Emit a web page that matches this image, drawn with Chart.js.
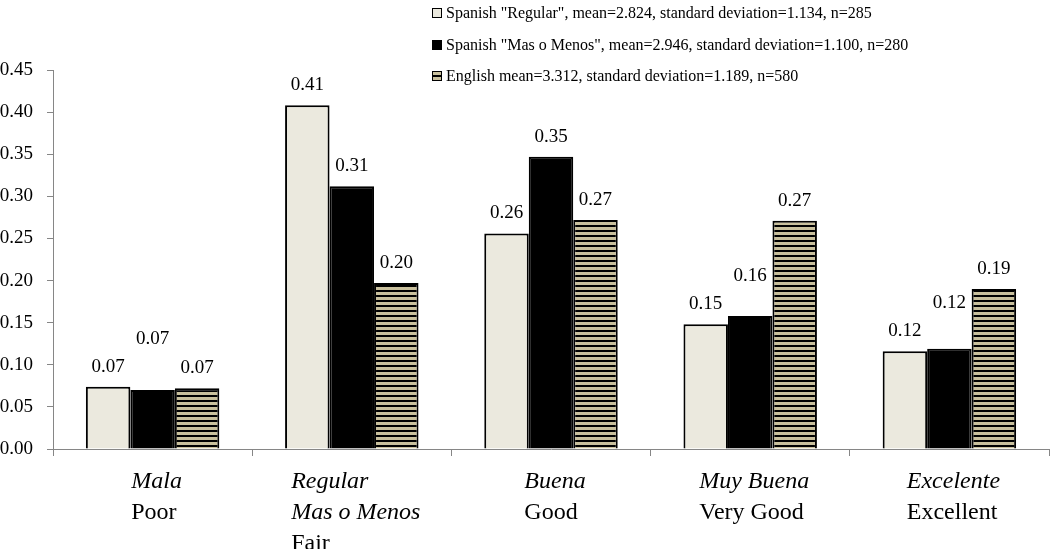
<!DOCTYPE html>
<html>
<head>
<meta charset="utf-8">
<script src="https://cdn.jsdelivr.net/npm/chart.js@4/dist/chart.umd.min.js"></script>
<style>
  html, body { margin: 0; padding: 0; background: #fff; }
  #wrap { width: 1050px; height: 549px; }
</style>
</head>
<body>
<div id="wrap"><canvas id="ratings-chart" width="1050" height="549"></canvas></div>
<script>
// categories: Spanish wording (italic) and English wording
const spanishLabels = [['Mala'], ['Regular', 'Mas o Menos'], ['Buena'], ['Muy Buena'], ['Excelente']];
const englishLabels = ['Poor', 'Fair', 'Good', 'Very Good', 'Excellent'];

// proportion answering each category
const spanishRegular = [0.074, 0.408, 0.256, 0.148, 0.116];
const spanishMasMenos = [0.070, 0.312, 0.347, 0.158, 0.119];
const englishRatings = [0.072, 0.197, 0.272, 0.271, 0.190];

const seriesNames = [
  'Spanish "Regular", mean=2.824, standard deviation=1.134, n=285',
  'Spanish "Mas o Menos", mean=2.946, standard deviation=1.100, n=280',
  'English mean=3.312, standard deviation=1.189, n=580'
];

const yTicks = [0, 0.05, 0.10, 0.15, 0.20, 0.25, 0.30, 0.35, 0.40, 0.45];

const SERIF = '"Liberation Serif", "Times New Roman", serif';

// horizontal stripes for the English bars
const makeStripes = () => {
  const c = document.createElement('canvas');
  c.width = 4; c.height = 5;
  const g = c.getContext('2d');
  g.fillStyle = '#c9c09d';
  g.fillRect(0, 0, 4, 5);
  g.fillStyle = '#000';
  g.fillRect(0, 0, 4, 2);
  return g.createPattern(c, 'repeat');
};
const stripes = makeStripes();
const lightFill = '#ebe9de';

const extrasPlugin = {
  id: 'extras',
  afterDatasetsDraw(chart) {
    const ctx = chart.ctx;
    ctx.save();
    ctx.font = '19px ' + SERIF;
    ctx.fillStyle = '#000';
    ctx.textAlign = 'center';
    ctx.textBaseline = 'middle';
    const n = chart.data.labels.length;
    for (let i = 0; i < n; i++) {
      let leftY = null;
      chart.data.datasets.forEach((ds, d) => {
        const bar = chart.getDatasetMeta(d).data[i];
        let y = bar.y - 20;
        // lift the middle label when it would sit level with its left neighbour
        if (d === 1 && leftY !== null && Math.abs(y - leftY) < 20) y = leftY - 28;
        if (d === 0) leftY = y;
        ctx.fillText(ds.data[i].toFixed(2), bar.x, y);
      });
    }
    ctx.restore();
  },
  afterDraw(chart) {
    const ctx = chart.ctx;
    const xs = chart.scales.x;
    ctx.save();
    ctx.fillStyle = '#000';
    ctx.textBaseline = 'middle';
    ctx.textAlign = 'left';
    // two-style category labels, lines left-aligned in a centred block
    spanishLabels.forEach((lines, i) => {
      const x = xs.getPixelForValue(i);
      ctx.font = 'italic 24px ' + SERIF;
      let w = Math.max(...lines.map(t => ctx.measureText(t).width));
      ctx.font = '24px ' + SERIF;
      w = Math.max(w, ctx.measureText(englishLabels[i]).width);
      const left = x - w / 2 + 4;
      let y = 482;
      ctx.font = 'italic 24px ' + SERIF;
      lines.forEach(t => { ctx.fillText(t, left, y); y += 31; });
      ctx.font = '24px ' + SERIF;
      ctx.fillText(englishLabels[i], left, y);
    });
    // legend, one row per series
    const rowsY = [13, 45, 76];
    ctx.font = '16px ' + SERIF;
    chart.data.datasets.forEach((ds, d) => {
      const y = rowsY[d];
      ctx.fillStyle = ds.backgroundColor;
      ctx.fillRect(432, y - 5, 10, 10);
      ctx.strokeStyle = '#000';
      ctx.lineWidth = 1;
      ctx.strokeRect(432.5, y - 4.5, 9, 9);
      ctx.fillStyle = '#000';
      ctx.fillText(ds.label, 446, y + 1);
    });
    ctx.restore();
  }
};

new Chart(document.getElementById('ratings-chart'), {
  type: 'bar',
  data: {
    labels: englishLabels,
    datasets: [
      { label: seriesNames[0], data: spanishRegular, backgroundColor: lightFill, borderColor: '#000', borderWidth: 2 },
      { label: seriesNames[1], data: spanishMasMenos, backgroundColor: '#000', borderColor: '#000', borderWidth: 2 },
      { label: seriesNames[2], data: englishRatings, backgroundColor: stripes, borderColor: '#000', borderWidth: 2 }
    ]
  },
  options: {
    responsive: false,
    animation: false,
    layout: { padding: { top: 70, right: 1, left: 0, bottom: 0 } },
    datasets: { bar: { categoryPercentage: 0.67, barPercentage: 1.0 } },
    scales: {
      x: {
        grid: { display: true, drawOnChartArea: false, drawTicks: true, tickLength: 7, offset: true, color: '#868686' },
        border: { color: '#868686', width: 1 },
        ticks: { display: false },
        afterFit: (s) => { s.height = 100; }
      },
      y: {
        min: 0,
        max: 0.45,
        afterBuildTicks: (s) => { s.ticks = yTicks.map(v => ({ value: v })); },
        grid: { display: true, drawOnChartArea: false, drawTicks: true, tickLength: 6, color: '#868686' },
        border: { color: '#868686', width: 1 },
        ticks: {
          color: '#000',
          padding: 14,
          font: { family: SERIF, size: 19 },
          callback: (v) => Number(v).toFixed(2)
        },
        afterFit: (s) => { s.width = 53; }
      }
    },
    plugins: {
      legend: { display: false },
      tooltip: { enabled: false }
    }
  },
  plugins: [extrasPlugin]
});
</script>
</body>
</html>
